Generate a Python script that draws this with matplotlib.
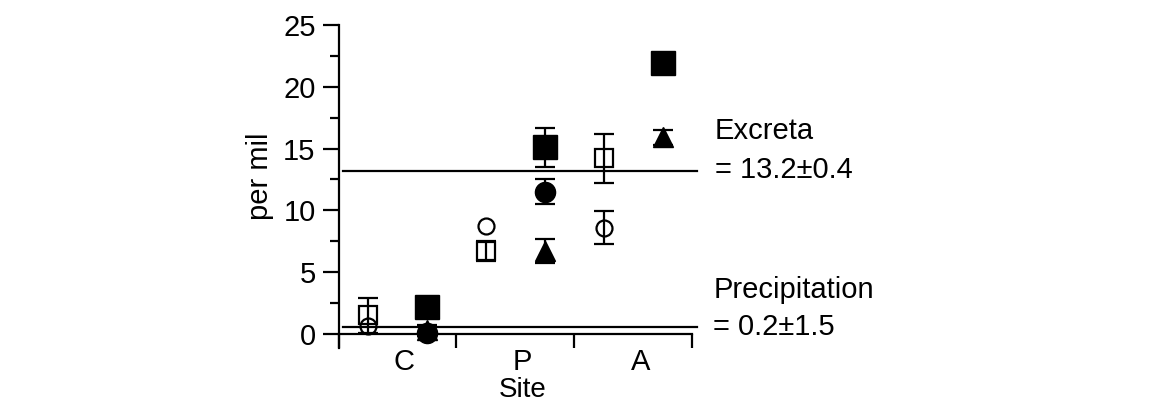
import matplotlib
matplotlib.use("Agg")
import matplotlib.pyplot as plt
import numpy as np

# data
sites = ["C", "P", "A"]

open_square = [1.5, 6.7, 14.2]
open_square_err = [1.4, 0.8, 2.0]
open_circle = [0.6, 8.7, 8.6]
open_circle_err = [0.0, 0.0, 1.35]

filled_square = [2.2, 15.1, 21.9]
filled_square_err = [0.0, 1.6, 0.0]
filled_circle = [0.05, 11.5, np.nan]
filled_circle_err = [0.0, 1.0, 0.0]
filled_triangle = [0.3, 6.7, 15.9]
filled_triangle_err = [0.45, 1.0, 0.6]

# reference lines (value where the line is drawn, label text)
ref_levels = [13.2, 0.55]
ref_names = ["Excreta", "Precipitation"]
ref_values = ["= 13.2±0.4", "= 0.2±1.5"]

plt.rcParams["font.family"] = ["Liberation Sans", "DejaVu Sans"]
plt.rcParams["font.size"] = 21

W, H = 1150, 403
fig = plt.figure(figsize=(W / 100, H / 100), dpi=100)
# axes box in pixels: x 338.5..692, y 25..347.6
ax = fig.add_axes([338.5 / W, (H - 347.6) / H, (692 - 338.5) / W, (347.6 - 25) / H])


def draw_series(ax, xs, ys, errs, marker, ms, filled):
    xs = np.asarray(xs, dtype=float)
    ys = np.asarray(ys, dtype=float)
    errs = np.asarray(errs, dtype=float)
    has_err = errs > 0
    if has_err.any():
        ax.errorbar(xs[has_err], ys[has_err], yerr=errs[has_err], fmt="none",
                    ecolor="black", elinewidth=1.6, capsize=7, capthick=1.6,
                    zorder=2)
    ax.plot(xs, ys, linestyle="none", marker=marker, markersize=ms,
            markerfacecolor="black" if filled else "none",
            markeredgecolor="black", markeredgewidth=1.6 if not filled else 1,
            zorder=3)


x = np.arange(len(sites))
x_open = x + 0.25
x_filled = x + 0.75

draw_series(ax, x_open, open_square, open_square_err, "s", 13, False)
draw_series(ax, x_open, open_circle, open_circle_err, "o", 11.5, False)
draw_series(ax, x_filled, filled_square, filled_square_err, "s", 17, True)
draw_series(ax, x_filled, filled_triangle, filled_triangle_err, "^", 14, True)
draw_series(ax, x_filled, filled_circle, filled_circle_err, "o", 14.5, True)

# horizontal reference lines with their labels on the right
for level in ref_levels:
    ax.plot([0.04, 3.04], [level, level], color="black", linewidth=1.6,
            clip_on=False, zorder=1)
excreta_y = [15.8, 12.6]
precip_y = [2.9, -0.1]
ax.text(3.195, excreta_y[0], ref_names[0], ha="left", va="baseline", clip_on=False)
ax.text(3.195, excreta_y[1], ref_values[0], ha="left", va="baseline", clip_on=False)
ax.text(3.18, precip_y[0], ref_names[1], ha="left", va="baseline", clip_on=False)
ax.text(3.18, precip_y[1], ref_values[1], ha="left", va="baseline", clip_on=False)

# axes
ax.set_xlim(0, 3)
ax.set_ylim(-1.12, 25)
for side in ["top", "right"]:
    ax.spines[side].set_visible(False)
ax.spines["bottom"].set_position(("data", 0))
ax.spines["bottom"].set_linewidth(1.6)
ax.spines["left"].set_linewidth(1.6)

ax.set_xticks([0, 1, 2, 3])
ax.set_xticklabels([])
ax.set_xticks(x + 0.56, minor=True)
ax.set_xticklabels(sites, minor=True)
ax.tick_params(axis="x", which="major", direction="out", length=10, width=1.6)
ax.tick_params(axis="x", which="minor", length=0, pad=10.5)

ax.set_yticks([0, 5, 10, 15, 20, 25])
ax.set_yticks([2.5, 7.5, 12.5, 17.5, 22.5], minor=True)
ax.tick_params(axis="y", which="major", direction="out", length=11.5, width=1.6, pad=5)
ax.tick_params(axis="y", which="minor", direction="out", length=6.5, width=1.6)

ax.set_xlabel("Site", fontsize=20)
ax.xaxis.label.set_va("baseline")
ax.xaxis.set_label_coords(0.52, -0.153)
ax.set_ylabel("per mil")
ax.yaxis.label.set_va("baseline")
ax.yaxis.set_label_coords(-0.2, 0.532)

fig.savefig("out.png", dpi=100)
